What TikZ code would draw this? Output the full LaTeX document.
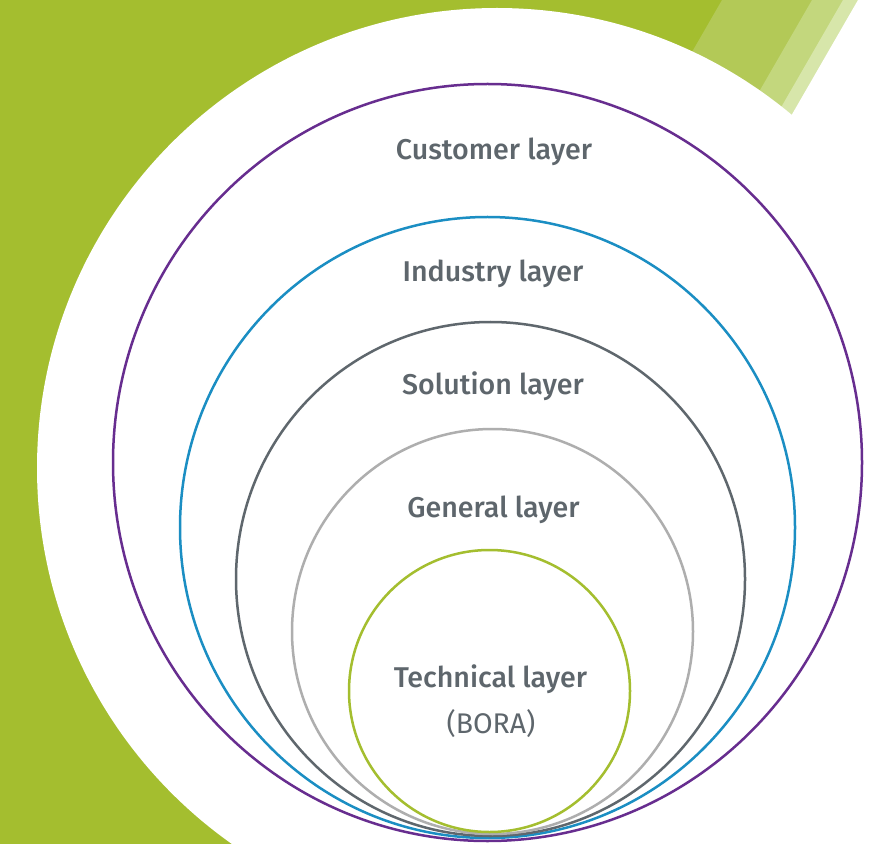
\documentclass[tikz,border=0pt]{standalone}
\usepackage{fontspec}
\setmainfont{Fira Sans}[BoldFont={Fira Sans Medium}]
\definecolor{leafGreen}{HTML}{A4BE2F}
\definecolor{stripeA}{HTML}{B3C957}
\definecolor{stripeB}{HTML}{C3D77D}
\definecolor{stripeC}{HTML}{D7E6AA}
\definecolor{layerPurple}{HTML}{672D8F}
\definecolor{layerBlue}{HTML}{1B8EC3}
\definecolor{layerSlate}{HTML}{5F676D}
\definecolor{layerSilver}{HTML}{AEAEAE}
\definecolor{labelGray}{HTML}{5E666C}
\begin{document}
\begin{tikzpicture}[x=0.5pt, y=-0.5pt, ringStyle/.style={line width=1.25pt}, labelStyle/.style={anchor=base, text=labelGray, font=\bfseries\fontsize{14.3}{17}\selectfont}, noteStyle/.style={anchor=base, text=labelGray, font=\fontsize{14.2}{17}\selectfont}]
                    \useasboundingbox (0, 0) rectangle (872, 844);
                    \fill[leafGreen] (0, 0) rectangle (872, 844);
                    \fill[stripeA] (722, 0) -- (872, 0) -- (872, 844) -- (722 - 487, 844) -- cycle;
                    \fill[stripeB] (812, 0) -- (872, 0) -- (872, 844) -- (812 - 487, 844) -- cycle;
                    \fill[stripeC] (843, 0) -- (872, 0) -- (872, 844) -- (843 - 487, 844) -- cycle;
                    \fill[white]   (858, 0) -- (872, 0) -- (872, 844) -- (858 - 487, 844) -- cycle;
                    \fill[white] (497, 468) circle[radius=460];

                    \draw[ringStyle, layerPurple] (487.5, 462.5) ellipse[x radius=374.5, y radius=378.5];
                    \draw[ringStyle, layerBlue]   (487.5, 527.5) ellipse[x radius=307.5, y radius=310.5];
                    \draw[ringStyle, layerSlate]  (490.5, 579)   ellipse[x radius=254.5, y radius=257];
                    \draw[ringStyle, layerSilver] (492.5, 631.5) ellipse[x radius=200.5, y radius=202.5];
                    \draw[ringStyle, leafGreen]   (489.5, 691)   ellipse[x radius=140.5, y radius=141];

                    \node[labelStyle] (customer)  at (494, 160) {Customer layer};
                    \node[labelStyle] (industry)  at (493, 282) {Industry layer};
                    \node[labelStyle] (solution)  at (493, 394) {Solution layer};
                    \node[labelStyle] (general)   at (493.5, 517) {General layer};
                    \node[labelStyle] (technical) at (490.5, 687) {Technical layer};
                    \node[noteStyle]  (bora)      at (491, 733) {(BORA)};
                \end{tikzpicture}
\end{document}
